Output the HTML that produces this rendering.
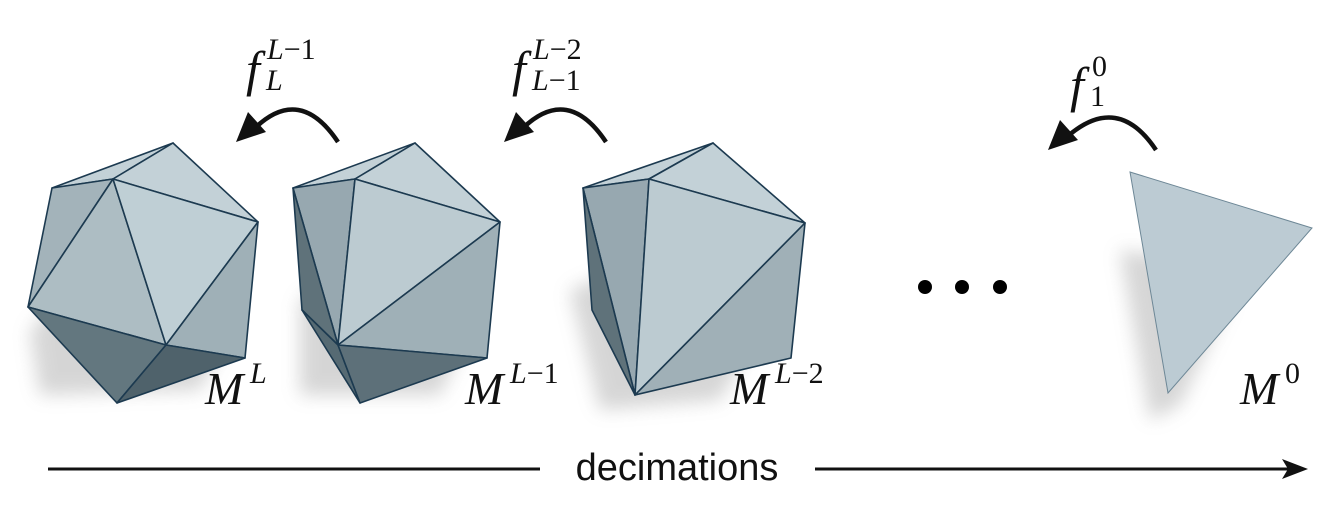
<!DOCTYPE html>
<html><head><meta charset="utf-8"><style>
html,body{margin:0;padding:0;background:#fff;width:1334px;height:512px;overflow:hidden}
svg{display:block}
.m{font-family:"Liberation Serif","DejaVu Serif",serif;font-style:italic;fill:#111}
.n{font-family:"Liberation Serif","DejaVu Serif",serif;font-style:normal;fill:#111}
</style></head><body>
<svg width="1334" height="512" viewBox="0 0 1334 512">
<defs>
<filter id="blur" x="-30%" y="-30%" width="160%" height="160%"><feGaussianBlur stdDeviation="9"/></filter>
</defs>
<g fill="#8a8a8a" opacity="0.35" filter="url(#blur)">
<polygon points="30,330 90,270 230,330 200,390 40,395"/>
<polygon points="300,300 350,270 470,330 440,395 300,395"/>
<polygon points="570,290 620,270 760,330 720,400 600,410"/>
<polygon points="1120,250 1190,260 1230,300 1180,405 1150,420"/>
</g>
<g stroke="#1c3a50" stroke-width="1.6" stroke-linejoin="round">
<polygon points="52,188 173,143 113,179" fill="#c3d1d7"/>
<polygon points="113,179 173,143 258,222" fill="#c3d1d7"/>
<polygon points="52,188 113,179 28,307" fill="#a3b3ba"/>
<polygon points="113,179 166,345 28,307" fill="#adbdc3"/>
<polygon points="113,179 258,222 166,345" fill="#bfcfd5"/>
<polygon points="258,222 245,358 166,345" fill="#9fb0b7"/>
<polygon points="28,307 166,345 117,403" fill="#63777f"/>
<polygon points="166,345 245,358 117,403" fill="#4f626b"/>
</g>
<g stroke="#1c3a50" stroke-width="1.6" stroke-linejoin="round">
<polygon points="293,188 415,143 355,179" fill="#c3d1d7"/>
<polygon points="355,179 415,143 500,222" fill="#c3d1d7"/>
<polygon points="293,188 355,179 338,345" fill="#97a8b0"/>
<polygon points="293,188 338,345 302,310" fill="#5f727a"/>
<polygon points="355,179 500,222 338,345" fill="#bccbd1"/>
<polygon points="500,222 487,358 338,345" fill="#9fb0b7"/>
<polygon points="302,310 338,345 360,403" fill="#566a73"/>
<polygon points="338,345 487,358 360,403" fill="#5d7079"/>
</g>
<g stroke="#1c3a50" stroke-width="1.6" stroke-linejoin="round">
<polygon points="583,188 713,143 649,179" fill="#c3d1d7"/>
<polygon points="649,179 713,143 805,223" fill="#c3d1d7"/>
<polygon points="583,188 649,179 635,395" fill="#97a8b0"/>
<polygon points="583,188 635,395 592,310" fill="#5f727a"/>
<polygon points="649,179 805,223 635,395" fill="#bccbd1"/>
<polygon points="805,223 791,358 635,395" fill="#a0b0b7"/>
</g>
<polygon points="1130,172 1312,228 1168,393" fill="#bccbd3" stroke="#6d8796" stroke-width="1"/>
<g fill="#000">
<circle cx="925" cy="287" r="7"/><circle cx="962" cy="287" r="7"/><circle cx="1000" cy="287" r="7"/>
</g>
<g fill="none" stroke="#111" stroke-width="4.5">
<path d="M338,142 Q300,85 255,128"/>
<path d="M606,142 Q568,85 523,128"/>
<path d="M1156,150 Q1118,93 1068,136"/>
</g>
<g fill="#111">
<polygon points="236,142 248,112 266,132"/>
<polygon points="504,142 516,112 534,132"/>
<polygon points="1048,150 1060,120 1078,140"/>
</g>
<g>
<text class="m" x="246" y="86" font-size="50">f</text>
<text class="m" x="267" y="59" font-size="30">L<tspan class="n">−1</tspan></text>
<text class="m" x="266" y="90" font-size="30">L</text>
<text class="m" x="512" y="86" font-size="50">f</text>
<text class="m" x="533" y="59" font-size="30">L<tspan class="n">−2</tspan></text>
<text class="m" x="532" y="90" font-size="30">L<tspan class="n">−1</tspan></text>
<text class="m" x="1070" y="102" font-size="50">f</text>
<text class="n" x="1092" y="76" font-size="30">0</text>
<text class="n" x="1090" y="106" font-size="30">1</text>
</g>
<g>
<text class="m" x="205" y="404" font-size="46">M</text><text class="m" x="250" y="383" font-size="30">L</text>
<text class="m" x="465" y="404" font-size="46">M</text><text class="m" x="510" y="383" font-size="30">L<tspan class="n">−1</tspan></text>
<text class="m" x="730" y="404" font-size="46">M</text><text class="m" x="775" y="383" font-size="30">L<tspan class="n">−2</tspan></text>
<text class="m" x="1240" y="404" font-size="46">M</text><text class="n" x="1285" y="383" font-size="30">0</text>
</g>
<g>
<line x1="48" y1="469" x2="540" y2="469" stroke="#111" stroke-width="3"/>
<line x1="815" y1="469" x2="1290" y2="469" stroke="#111" stroke-width="3"/>
<polygon points="1308,469 1282,459 1288,469 1282,479" fill="#111"/>
<text x="677" y="480" font-family="Liberation Sans, sans-serif" font-size="38" text-anchor="middle" fill="#111">decimations</text>
</g>
</svg>
</body></html>
